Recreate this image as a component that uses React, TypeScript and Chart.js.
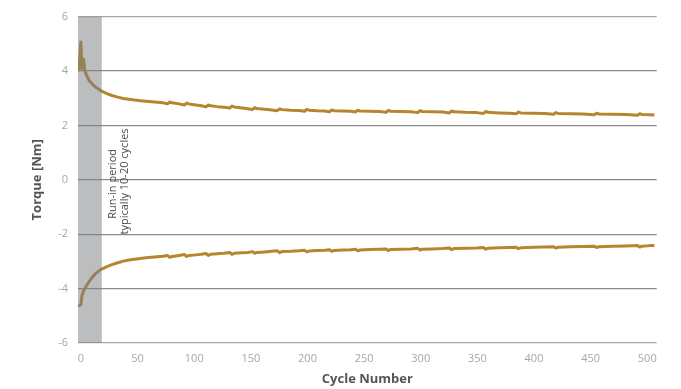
import { useEffect, useRef } from "react";
import { Chart, registerables } from "chart.js";

Chart.register(...registerables);

const cycles = [
  0, 1, 2.5, 3.5, 5, 6, 8, 10, 13, 16, 20, 25, 30, 35, 40, 45, 50, 55, 60, 65, 70, 75,
  79, 81, 83, 88, 94, 96, 98, 104, 109, 113, 115, 117, 123, 129, 134, 136, 138, 145, 150,
  154, 156, 158, 165, 171, 176, 178, 180, 188, 195, 200, 202, 204, 211, 218, 222, 224, 226,
  234, 241, 245, 247, 249, 258, 266, 272, 274, 276, 285, 294, 300, 302, 304, 313, 322, 328,
  330, 332, 342, 352, 358, 360, 362, 372, 381, 387, 389, 391, 402, 412, 420, 422, 424, 435,
  446, 456, 458, 460, 472, 484, 494, 496, 498, 505, 509,
];

const upperTorque = [
  4.0, 4.05, 5.07, 4.1, 4.42, 4.0, 3.8, 3.64, 3.5, 3.39, 3.28, 3.18, 3.1, 3.04, 2.99, 2.96, 2.93, 2.91, 2.89, 2.87, 2.85, 2.83,
  2.79, 2.86, 2.83, 2.8, 2.75, 2.82, 2.79, 2.75, 2.72, 2.68, 2.75, 2.72, 2.69, 2.67, 2.64, 2.71, 2.68, 2.64, 2.61,
  2.58, 2.65, 2.62, 2.59, 2.57, 2.54, 2.61, 2.58, 2.56, 2.55, 2.52, 2.59, 2.56, 2.54, 2.53, 2.5, 2.57, 2.54,
  2.53, 2.52, 2.49, 2.56, 2.53, 2.52, 2.51, 2.48, 2.55, 2.52, 2.51, 2.5, 2.47, 2.54, 2.51, 2.5, 2.49, 2.46,
  2.53, 2.5, 2.48, 2.47, 2.44, 2.51, 2.48, 2.46, 2.45, 2.43, 2.49, 2.46, 2.45, 2.44, 2.41, 2.47, 2.44, 2.43,
  2.42, 2.39, 2.45, 2.42, 2.41, 2.4, 2.37, 2.43, 2.4, 2.39, 2.38,
];

const lowerTorque = [
  -4.63, -4.62, -4.6, -4.25, -4.08, -4.0, -3.86, -3.73, -3.56, -3.43, -3.3, -3.2, -3.12, -3.05, -2.99, -2.95, -2.92, -2.89, -2.87, -2.85, -2.83, -2.81,
  -2.78, -2.85, -2.82, -2.79, -2.75, -2.82, -2.78, -2.76, -2.74, -2.71, -2.78, -2.74, -2.72, -2.7, -2.67, -2.74, -2.7, -2.68, -2.67,
  -2.64, -2.7, -2.67, -2.65, -2.63, -2.61, -2.68, -2.64, -2.63, -2.61, -2.59, -2.65, -2.62, -2.6, -2.59, -2.57, -2.63, -2.6,
  -2.58, -2.57, -2.55, -2.61, -2.58, -2.56, -2.55, -2.54, -2.6, -2.56, -2.55, -2.54, -2.52, -2.58, -2.55, -2.54, -2.53, -2.51,
  -2.57, -2.53, -2.52, -2.51, -2.49, -2.55, -2.52, -2.5, -2.49, -2.48, -2.53, -2.5, -2.48, -2.47, -2.46, -2.51, -2.48, -2.46,
  -2.45, -2.44, -2.49, -2.46, -2.44, -2.43, -2.42, -2.47, -2.44, -2.42, -2.42,
];

const xTickValues = [0, 50, 100, 150, 200, 250, 300, 350, 400, 450, 500];
const yTickValues = [-6, -4, -2, 0, 2, 4, 6];
const runInEndCycle = 21;
const runInLines = ["Run-in period", "typically 10-20 cycles"];

const LINE_COLOR = "#B5862E";
const FONT = "'Open Sans', 'DejaVu Sans', sans-serif";

export default function App() {
  const ref = useRef<HTMLCanvasElement | null>(null);

  useEffect(() => {
    if (!ref.current) return;

    const runInPlugin = {
      id: "runInBand",
      afterDatasetsDraw(chart: any) {
        const { ctx, chartArea, scales } = chart;
        const xEnd = scales.x.getPixelForValue(runInEndCycle);
        ctx.save();
        ctx.fillStyle = "rgba(122,124,128,0.5)";
        ctx.fillRect(chartArea.left, chartArea.top, xEnd - chartArea.left, chartArea.bottom - chartArea.top);
        ctx.fillStyle = "#4a4a4a";
        ctx.font = `11px ${FONT}`;
        ctx.textAlign = "center";
        ctx.textBaseline = "middle";
        const lineX = [scales.x.getPixelForValue(30.5), scales.x.getPixelForValue(41.5)];
        const lineY = [scales.y.getPixelForValue(-0.15), scales.y.getPixelForValue(-0.06)];
        runInLines.forEach((t, i) => {
          ctx.save();
          ctx.translate(lineX[i], lineY[i]);
          ctx.rotate(-Math.PI / 2);
          ctx.fillText(t, 0, 0);
          ctx.restore();
        });
        ctx.restore();
      },
    };

    const chart = new Chart(ref.current, {
      type: "line",
      data: {
        datasets: [
          {
            label: "Upper",
            data: cycles.map((c, i) => ({ x: c, y: upperTorque[i] })),
            borderColor: LINE_COLOR,
            borderWidth: 3,
            pointRadius: 0,
            tension: 0,
            borderJoinStyle: "round",
            fill: false,
          },
          {
            label: "Lower",
            data: cycles.map((c, i) => ({ x: c, y: lowerTorque[i] })),
            borderColor: LINE_COLOR,
            borderWidth: 3,
            pointRadius: 0,
            tension: 0,
            borderJoinStyle: "round",
            fill: false,
          },
        ],
      },
      options: {
        animation: false,
        responsive: false,
        devicePixelRatio: 1,
        layout: { padding: { top: 15.5, right: 24.3, left: 0, bottom: 0 } },
        plugins: {
          legend: { display: false },
          tooltip: { enabled: false },
        },
        scales: {
          x: {
            type: "linear",
            min: 0,
            max: 511,
            afterBuildTicks: (s: any) => {
              s.ticks = xTickValues.map((v) => ({ value: v }));
            },
            afterFit: (s: any) => {
              s.height = 46;
            },
            grid: { display: false, drawTicks: false },
            border: { display: false },
            ticks: {
              color: "#a6a6a6",
              font: { family: FONT, size: 11 },
              padding: 9,
              labelOffset: 3,
              maxRotation: 0,
              autoSkip: false,
            },
            title: {
              display: true,
              text: "Cycle Number",
              color: "#555555",
              font: { family: FONT, size: 13, weight: "bold" },
              padding: { top: 0, bottom: 2 },
            },
          },
          y: {
            min: -6,
            max: 6,
            afterBuildTicks: (s: any) => {
              s.ticks = yTickValues.map((v) => ({ value: v }));
            },
            afterFit: (s: any) => {
              s.width = 78;
            },
            grid: {
              drawTicks: false,
              lineWidth: 1.3,
              color: (ctx: any) =>
                ctx.tick && Math.abs(ctx.tick.value) === 6 ? "#a8a8a8" : "#8a8a8a",
            },
            border: { display: false },
            ticks: {
              color: "#a6a6a6",
              font: { family: FONT, size: 11 },
              padding: 10,
            },
            title: {
              display: true,
              text: "Torque [Nm]",
              color: "#555555",
              font: { family: FONT, size: 13, weight: "bold" },
              padding: { top: 29, bottom: 0 },
            },
          },
        },
      },
      plugins: [runInPlugin],
    });

    return () => chart.destroy();
  }, []);

  return (
    <div style={{ position: "absolute", left: 0, top: 0, width: 681, height: 389, background: "#fff" }}>
      <canvas ref={ref} width={681} height={389} />
    </div>
  );
}
